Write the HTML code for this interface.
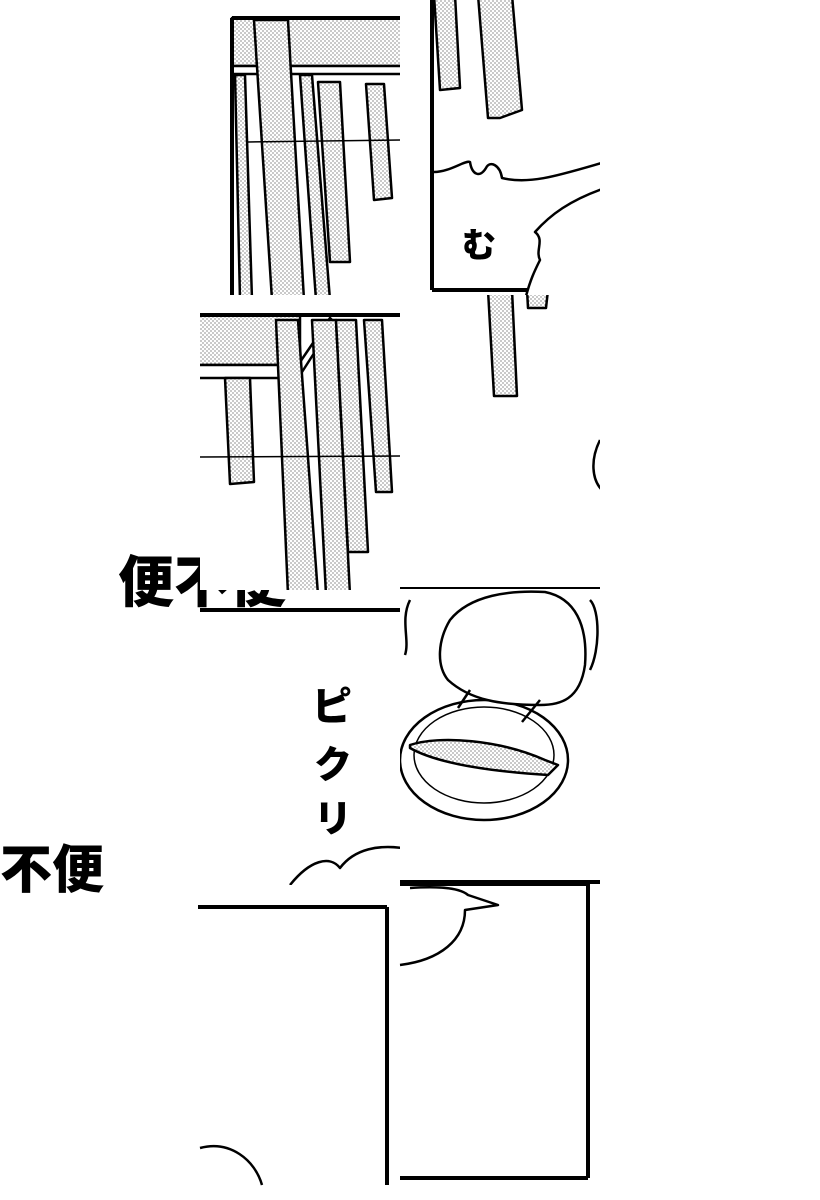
<!DOCTYPE html>
<html><head><meta charset="utf-8"><style>
html,body{margin:0;padding:0;background:#fff;width:820px;height:1200px;overflow:hidden}
svg{display:block}
.t{font-family:"Liberation Sans","Noto Sans CJK JP",sans-serif;font-weight:900}
</style></head><body>
<svg width="820" height="1200" viewBox="0 0 820 1200" xmlns="http://www.w3.org/2000/svg">
<defs>
<pattern id="d" width="4" height="4" patternUnits="userSpaceOnUse">
<rect width="4" height="4" fill="#fff"/><circle cx="1" cy="1" r="0.6" fill="#444"/><circle cx="3" cy="3" r="0.6" fill="#444"/>
</pattern>
<clipPath id="cA"><rect x="200" y="0" width="200" height="295"/></clipPath>
<clipPath id="cB"><rect x="400" y="0" width="200" height="295"/></clipPath>
<clipPath id="cC"><rect x="200" y="295" width="200" height="295"/></clipPath>
<clipPath id="cD"><rect x="400" y="295" width="200" height="295"/></clipPath>
<clipPath id="cE"><rect x="200" y="590" width="200" height="295"/></clipPath>
<clipPath id="cF"><rect x="400" y="587" width="200" height="298"/></clipPath>
</defs>
<text x="118" y="602" class="t" font-size="56">便不便</text>
<text x="0" y="888" class="t" font-size="52">不便</text>
<rect x="200" y="295" width="200" height="295" fill="#fff"/>
<g stroke="#000" stroke-width="2.5" fill="url(#d)" stroke-linejoin="round">
<g clip-path="url(#cA)">
<rect x="232" y="18" width="170" height="48"/>
<rect x="232" y="66" width="170" height="8" fill="#fff"/>
<line x1="232" y1="18" x2="232" y2="300" stroke-width="4"/>
<line x1="232" y1="18" x2="402" y2="18" stroke-width="4"/>
<polygon points="235,75 245,75 252,300 240,300"/>
<polygon points="254,20 288,20 304,300 272,300"/>
<polygon points="300,75 312,75 330,300 316,300"/>
<polygon points="318,82 340,82 350,262 330,262"/>
<polygon points="366,84 384,84 392,198 374,200"/>
<line x1="248" y1="142" x2="402" y2="140" stroke-width="1.5"/>
</g>
<g clip-path="url(#cB)">
<line x1="432" y1="0" x2="432" y2="290" stroke-width="4"/>
<line x1="432" y1="290" x2="602" y2="290" stroke-width="4"/>
<polygon points="434,-5 455,-5 460,88 440,90"/>
<polygon points="478,-5 512,-5 522,110 500,118 488,118"/>
<path d="M434,172 C450,172 465,160 470,162 C472,175 480,178 486,168 C490,160 500,165 502,178 C530,185 560,175 605,162 L605,300 L525,300 C530,280 535,270 540,260 C535,250 545,240 535,232 C550,215 570,200 605,188" fill="#fff"/>
</g>
<g clip-path="url(#cC)">
<rect x="198" y="315" width="102" height="50"/>
<line x1="198" y1="315" x2="402" y2="315" stroke-width="4"/>
<polygon points="198,365 298,365 298,378 198,378" fill="#fff"/>
<polygon points="298,365 330,318 334,322 302,372" fill="#fff"/>
<polygon points="225,378 250,378 254,482 230,484"/>
<polygon points="276,320 298,320 318,595 288,595"/>
<polygon points="312,320 336,320 350,595 326,595"/>
<polygon points="336,320 356,320 368,552 348,552"/>
<polygon points="364,320 382,320 392,492 376,492"/>
<line x1="198" y1="457" x2="402" y2="456" stroke-width="1.5"/>
</g>
<g clip-path="url(#cD)">
<polygon points="488,290 512,290 517,396 494,396"/>
<polygon points="527,290 548,290 546,308 528,308"/>
<path d="M600,440 C590,460 592,480 602,490" fill="none"/>
</g>
<g clip-path="url(#cE)">
<line x1="198" y1="610" x2="402" y2="610" stroke-width="4"/>
<path d="M290,885 C310,860 330,855 340,868 C355,848 380,845 402,848" fill="none"/>
</g>
<g clip-path="url(#cF)">
<line x1="400" y1="587" x2="602" y2="587" stroke-width="4"/>
<line x1="400" y1="882" x2="602" y2="882" stroke-width="4"/>
<ellipse cx="484" cy="760" rx="84" ry="60" fill="#fff"/>
<ellipse cx="484" cy="755" rx="70" ry="48" fill="none" stroke-width="1.5"/>
<path d="M410,745 C440,735 500,740 545,760 L558,765 L548,775 C500,772 440,765 410,748 Z"/>
<path d="M450,620 C470,595 510,590 545,592 C575,598 588,625 585,665 C580,700 560,705 540,705 C500,705 470,700 448,680 C436,665 438,640 450,620 Z" fill="#fff"/>
<path d="M458,708 L470,690 M522,722 L540,700"/>
<path d="M590,600 C600,610 600,650 590,670" fill="none"/>
<path d="M410,600 C400,620 410,640 405,655" fill="none"/>
</g>
<line x1="198" y1="907" x2="387" y2="907" stroke-width="4"/>
<line x1="387" y1="907" x2="387" y2="1185" stroke-width="4"/>
<path d="M200,1148 C230,1140 255,1160 262,1185" fill="none"/>
<line x1="400" y1="884" x2="588" y2="884" stroke-width="4"/>
<line x1="588" y1="884" x2="588" y2="1178" stroke-width="4"/>
<line x1="400" y1="1178" x2="588" y2="1178" stroke-width="4"/>
<path d="M400,965 C440,960 465,940 465,910 L498,905 L468,895 C460,888 440,886 410,888" fill="none"/>
</g>
<text x="462" y="257" class="t" font-size="34">む</text>
<text x="312" y="720" class="t" font-size="40">ピ</text>
<text x="314" y="778" class="t" font-size="38">ク</text>
<text x="314" y="832" class="t" font-size="38">リ</text>
</svg>
</body></html>
